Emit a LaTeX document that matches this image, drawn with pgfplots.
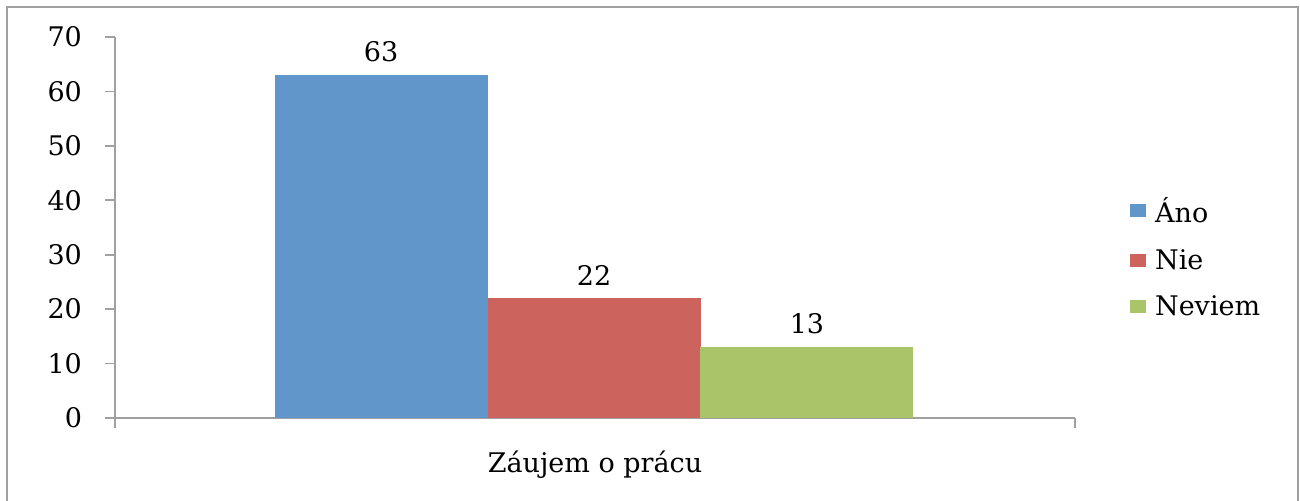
\documentclass[border=0pt]{standalone}
\usepackage{pgfplots}
\pgfplotsset{compat=1.18}
\usepackage{fontspec}
\setmainfont{DejaVu Serif}
\definecolor{cA}{HTML}{6096C9}
\definecolor{cN}{HTML}{CC635D}
\definecolor{cV}{HTML}{AAC46A}
\definecolor{axg}{HTML}{A0A0A0}
\newcommand{\cf}{\fontsize{13.5}{15}\selectfont}
\begin{document}
\begin{tikzpicture}
\useasboundingbox (0,0) rectangle (650pt,250pt);
\draw[axg, line width=1pt] (3.5pt,-2pt) -- (3.5pt,246.5pt) -- (649pt,246.5pt) -- (649pt,-2pt);
\begin{axis}[
  at={(57.5pt,41pt)}, anchor=origin,
  scale only axis, width=480pt, height=190.5pt,
  xmin=0, xmax=1, ymin=0, ymax=70,
  axis x line*=bottom, axis y line*=left,
  axis line style={axg, line width=1pt},
  x axis line style={-}, y axis line style={-},
  xtick={0,1}, xticklabels={}, 
  ytick={0,10,...,70},
  tick align=outside, major tick length=5pt,
  tick style={axg, line width=0.8pt},
  every tick label/.append style={font=\cf, text=black},
  yticklabel style={xshift=-8pt},
  /pgf/number format/assume math mode=true,
  xlabel={Záujem o prácu},
  xlabel style={font=\cf, at={(axis description cs:0.5,0)}, anchor=north, yshift=-13pt},
  ybar, bar width=106.5pt, bar shift=0pt,
  nodes near coords,
  every node near coord/.append style={font=\cf, text=black, yshift=3pt},
  legend style={at={(rel axis cs:1.057,0.42)}, anchor=west, draw=none, fill=none,
    font=\cf, row sep=8pt, inner sep=0pt,
    nodes={inner xsep=4.5pt}},
  legend cell align=left,
  area legend,
  legend image code/.code={\fill[#1] (0pt,-3pt) rectangle (8pt,3.5pt);},
  clip=false,
]
\addplot[fill=cA, draw=none] coordinates {(0.2771,63)};
\addplot[fill=cN, draw=none] coordinates {(0.4990,22)};
\addplot[fill=cV, draw=none] coordinates {(0.7208,13)};
\legend{Áno, Nie, Neviem}
\end{axis}
\end{tikzpicture}
\end{document}
